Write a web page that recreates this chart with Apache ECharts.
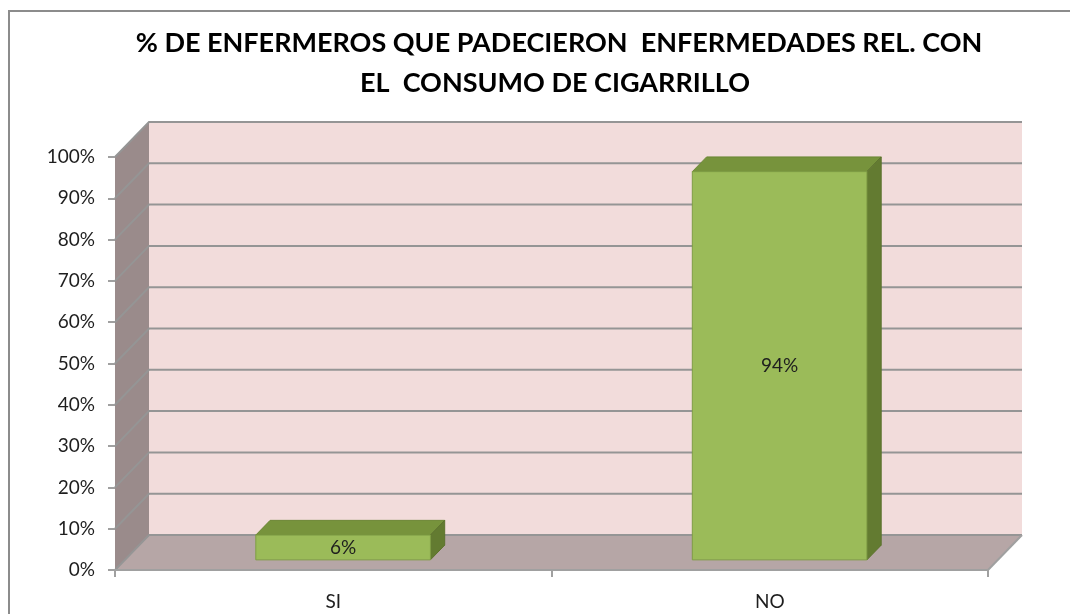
<!DOCTYPE html>
<html>
<head>
<meta charset="utf-8">
<script src="https://cdn.jsdelivr.net/npm/echarts@6/dist/echarts.min.js"></script>
<style>
html,body{margin:0;padding:0;background:#ffffff;}
#c{width:1070px;height:614px;}
</style>
</head>
<body>
<div id="c"></div>
<script>
// ---- data ----
const categories = ['SI', 'NO'];
const values = [0.06, 0.94];
const yTickValues = [0, 0.1, 0.2, 0.3, 0.4, 0.5, 0.6, 0.7, 0.8, 0.9, 1];
const titleLines = ['% DE ENFERMEROS QUE PADECIERON  ENFERMEDADES REL. CON', 'EL  CONSUMO DE CIGARRILLO'];

// ---- style constants ----
const DX = 34, DY = -35;              // 3D depth offset (pixels)
const BAR_FRONT = 0.29, BAR_BACK = 0.71, BAR_WIDTH = 0.4;
const FONT = 'Lato, "Open Sans", sans-serif';
const GRID_COLOR = '#959595';

function pct(v) { return Math.round(v * 100) + '%'; }

function renderFrame(params, api) {
  const bw = api.size([1, 0])[0];
  const c00 = api.coord([0, 0]);
  const x0 = c00[0] - bw / 2;
  const x1 = x0 + bw * categories.length;
  const yb = c00[1];
  const yt = api.coord([0, 1])[1];
  const ch = [];
  ch.push({type: 'polygon', shape: {points: [[x0 + DX, yt + DY], [x1 + DX, yt + DY], [x1 + DX, yb + DY], [x0 + DX, yb + DY]]}, style: {fill: '#f2dcdb'}});
  ch.push({type: 'polygon', shape: {points: [[x0, yb], [x0, yt], [x0 + DX, yt + DY], [x0 + DX, yb + DY]]}, style: {fill: '#9a8b8b'}});
  ch.push({type: 'polygon', shape: {points: [[x0, yb], [x0 + DX, yb + DY], [x1 + DX, yb + DY], [x1, yb]]}, style: {fill: '#b6a6a6'}});
  yTickValues.forEach(function (v) {
    const y = api.coord([0, v])[1];
    ch.push({type: 'polyline', shape: {points: [[x0, y], [x0 + DX, y + DY], [x1 + DX, y + DY]]}, style: {stroke: GRID_COLOR, lineWidth: 2, fill: null}});
  });
  ch.push({type: 'polyline', shape: {points: [[x1, yb], [x1 + DX, yb + DY]]}, style: {stroke: '#a0a0a0', lineWidth: 2, fill: null}});
  return {type: 'group', children: ch};
}

function renderBar(params, api) {
  const i = api.value(0), v = api.value(1);
  const bw = api.size([1, 0])[0];
  const w = bw * BAR_WIDTH;
  const base = api.coord([i, 0]);
  const top = api.coord([i, v]);
  const xl = base[0] - w / 2, xr = base[0] + w / 2, yb = base[1], yt = top[1];
  const fx = DX * BAR_FRONT, fy = DY * BAR_FRONT, bx = DX * BAR_BACK, by = DY * BAR_BACK;
  return {
    type: 'group',
    children: [
      {type: 'polygon', shape: {points: [[xl + fx, yt + fy], [xr + fx, yt + fy], [xr + bx, yt + by], [xl + bx, yt + by]]},
        style: {fill: '#77933c', stroke: '#6c8736', lineWidth: 1}},
      {type: 'polygon', shape: {points: [[xr + fx, yt + fy], [xr + bx, yt + by], [xr + bx, yb + by], [xr + fx, yb + fy]]},
        style: {fill: '#637b31', stroke: '#5c722d', lineWidth: 1}},
      {type: 'rect', shape: {x: xl + fx, y: yt + fy, width: w, height: yb - yt},
        style: {fill: '#9bbb59', stroke: '#7f9d45', lineWidth: 1}},
      {type: 'text', x: (xl + xr) / 2 + fx, y: (yt + yb) / 2 + fy,
        style: {text: pct(v), font: '19px ' + FONT, fill: '#1e1e1e', align: 'center', verticalAlign: 'middle',
          textAlign: 'center', textVerticalAlign: 'middle'}}
    ]
  };
}

const chart = echarts.init(document.getElementById('c'), null, {renderer: 'canvas'});
chart.setOption({
  animation: false,
  backgroundColor: '#ffffff',
  graphic: [
    {type: 'rect', shape: {x: 9, y: 11, width: 1100, height: 700}, style: {fill: 'none', stroke: '#8c8c8c', lineWidth: 2}, silent: true, z: -10},
    {type: 'text', x: 559, y: 43, style: {text: titleLines[0], font: 'bold 27px ' + FONT, fill: '#000000', textAlign: 'center', textVerticalAlign: 'middle', align: 'center', verticalAlign: 'middle'}},
    {type: 'text', x: 555, y: 83, style: {text: titleLines[1], font: 'bold 27px ' + FONT, fill: '#000000', textAlign: 'center', textVerticalAlign: 'middle', align: 'center', verticalAlign: 'middle'}}
  ],
  grid: {left: 115, right: 82, top: 157, bottom: 44, containLabel: false, outerBoundsMode: 'none'},
  xAxis: {
    type: 'category', data: categories, boundaryGap: true, z: 10,
    axisLine: {show: true, lineStyle: {color: '#a0a0a0', width: 2}},
    axisTick: {show: true, length: 7, lineStyle: {color: '#a0a0a0', width: 2}},
    axisLabel: {fontFamily: FONT, fontSize: 19, color: '#1e1e1e', margin: 22},
    splitLine: {show: false}
  },
  yAxis: {
    type: 'value', min: 0, max: 1, interval: 0.1, z: 10,
    axisLine: {show: false},
    axisTick: {show: true, length: 7, lineStyle: {color: '#a0a0a0', width: 2}},
    axisLabel: {fontFamily: FONT, fontSize: 19, color: '#1e1e1e', margin: 20, formatter: pct},
    splitLine: {show: false}
  },
  series: [
    {type: 'custom', name: 'frame', z: 1, silent: true, renderItem: renderFrame, data: [[0, 0]]},
    {type: 'custom', name: 'valores', z: 3, renderItem: renderBar, data: values.map(function (v, i) { return [i, v]; })}
  ]
});
</script>
</body>
</html>
